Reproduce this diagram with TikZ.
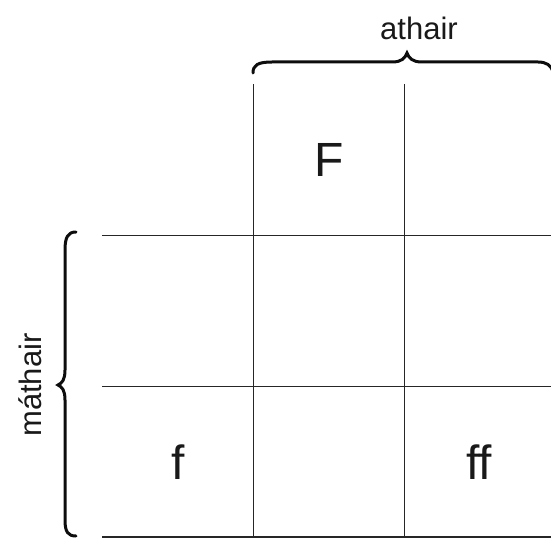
\documentclass[tikz,border=0pt]{standalone}
\usepackage{fontspec}
\setmainfont{Liberation Sans}
\begin{document}
\begin{tikzpicture}[x=1bp,y=-1bp,
  gridline/.style={line width=1.6bp,draw=black!85},
  bracestyle/.style={line width=3bp,draw=black!95,line cap=round},
  celltext/.style={font=\fontsize{48bp}{54bp}\selectfont,text=black!90,inner sep=0pt},
  labeltext/.style={font=\fontsize{31bp}{35bp}\selectfont,text=black!90,inner sep=0pt}]
\useasboundingbox (0,0) rectangle (551,538);
% grid
\draw[gridline] (253.5,84) -- (253.5,538);
\draw[gridline] (404.5,84) -- (404.5,538);
\draw[gridline] (102,235.5) -- (551,235.5);
\draw[gridline] (102,386.5) -- (551,386.5);
\draw[gridline] (102,537) -- (551,537);
% cell texts
\node[celltext] (F) at (329,160) {F};
\node[celltext] (f) at (178,462) {f};
\node[celltext] (ff) at (479,462) {ff};
% braces
\draw[bracestyle] (253,73) .. controls (253,65) and (258,62) .. (272,62) -- (392,62)
  .. controls (402,62) and (405,58) .. (407,53)
  .. controls (409,58) and (412,62) .. (422,62) -- (538,62)
  .. controls (546,62) and (551,65) .. (553,72);
\draw[bracestyle] (76,232) .. controls (68,232) and (65,237) .. (65,250) -- (65,370)
  .. controls (65,380) and (62,383) .. (58,385)
  .. controls (62,387) and (65,390) .. (65,400) -- (65,520)
  .. controls (65,532) and (68,536) .. (76,536);
% labels
\node[labeltext] (father) at (419,28) {athair};
\node[labeltext,rotate=90] (mother) at (30,385) {máthair};
\end{tikzpicture}
\end{document}
